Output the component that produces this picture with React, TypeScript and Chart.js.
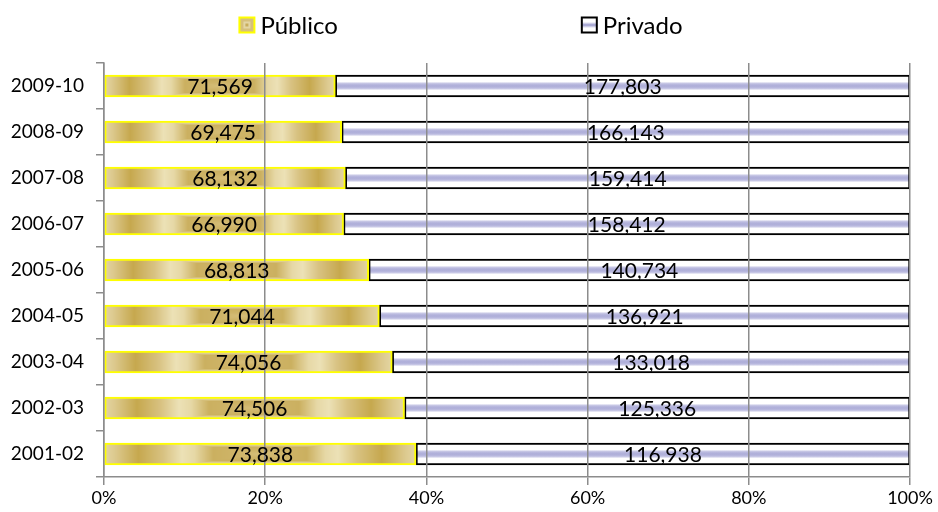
import React, { useEffect, useRef } from 'react';
import { Chart, registerables } from 'chart.js';

Chart.register(...registerables);

// ---- data ----
const categories = ['2001-02', '2002-03', '2003-04', '2004-05', '2005-06', '2006-07', '2007-08', '2008-09', '2009-10'];
const publico = [73838, 74506, 74056, 71044, 68813, 66990, 68132, 69475, 71569];
const privado = [116938, 125336, 133018, 136921, 140734, 158412, 159414, 166143, 177803];
const seriesNames = ['Público', 'Privado'];
const xTickValues = [0, 20, 40, 60, 80, 100];

const totals = publico.map((v, i) => v + privado[i]);
const publicoPct = publico.map((v, i) => (v / totals[i]) * 100);
const privadoPct = privado.map((v, i) => (v / totals[i]) * 100);
const rawValues = [publico, privado];

const FONT = 'Lato, "Open Sans", sans-serif';

// gold colour ramp: t = 0 centre, t = 1 edge
const goldStops: [number, number[]][] = [
  [0, [214, 190, 120]],
  [0.15, [206, 180, 104]],
  [0.3, [203, 176, 96]],
  [0.42, [230, 216, 166]],
  [0.5, [236, 225, 182]],
  [0.62, [216, 194, 130]],
  [0.78, [198, 168, 78]],
  [0.93, [220, 201, 142]],
  [1, [228, 214, 164]],
];

function goldAt(t: number): number[] {
  for (let k = 1; k < goldStops.length; k++) {
    const [t1, c1] = goldStops[k];
    const [t0, c0] = goldStops[k - 1];
    if (t <= t1) {
      const f = (t - t0) / (t1 - t0 || 1);
      return [0, 1, 2].map((q) => Math.round(c0[q] + (c1[q] - c0[q]) * f));
    }
  }
  return goldStops[goldStops.length - 1][1];
}

const patternCache = new Map<string, CanvasPattern>();

function goldPattern(ctx: CanvasRenderingContext2D, x0: number, y0: number, w: number, h: number) {
  const W = Math.max(1, Math.round(w));
  const H = Math.max(1, Math.round(h));
  const key = `${W}x${H}@${x0.toFixed(1)},${y0.toFixed(1)}`;
  const cached = patternCache.get(key);
  if (cached) return cached;
  const c = document.createElement('canvas');
  c.width = W;
  c.height = H;
  const g = c.getContext('2d')!;
  const img = g.createImageData(W, H);
  for (let y = 0; y < H; y++) {
    const dy = Math.abs(y + 0.5 - H / 2) / (H / 2);
    for (let x = 0; x < W; x++) {
      const dx = Math.abs(x + 0.5 - W / 2) / (W / 2);
      const t = Math.min(1, Math.max(dx, dy * 0.5));
      const col = goldAt(t);
      const p = (y * W + x) * 4;
      img.data[p] = col[0];
      img.data[p + 1] = col[1];
      img.data[p + 2] = col[2];
      img.data[p + 3] = 255;
    }
  }
  g.putImageData(img, 0, 0);
  const pat = ctx.createPattern(c, 'no-repeat')!;
  pat.setTransform(new DOMMatrix([1, 0, 0, 1, x0, y0]));
  patternCache.set(key, pat);
  return pat;
}

const BAR_THICKNESS = 22;

function barRect(c: any, start: number, end: number) {
  const chart = c.chart;
  const xs = chart.scales.x;
  const ys = chart.scales.y;
  if (!xs || !ys || !chart.chartArea) return null;
  const x0 = xs.getPixelForValue(start);
  const x1 = xs.getPixelForValue(end);
  const yc = ys.getPixelForValue(c.dataIndex);
  return { x0, x1, yTop: yc - BAR_THICKNESS / 2, yBot: yc + BAR_THICKNESS / 2 };
}

const publicoFill = (c: any) => {
  if (c.type !== 'data') return '#d4bd77';
  const r = barRect(c, 0, publicoPct[c.dataIndex]);
  if (!r) return '#d4bd77';
  return goldPattern(c.chart.ctx, r.x0, r.yTop, r.x1 - r.x0, r.yBot - r.yTop);
};

const privadoFill = (c: any) => {
  if (c.type !== 'data') return '#c8c8e4';
  const r = barRect(c, publicoPct[c.dataIndex], 100);
  if (!r) return '#c8c8e4';
  const g = c.chart.ctx.createLinearGradient(0, r.yTop, 0, r.yBot);
  g.addColorStop(0, '#ffffff');
  g.addColorStop(0.3, '#ffffff');
  g.addColorStop(0.4, '#bcbce0');
  g.addColorStop(0.5, '#adadd8');
  g.addColorStop(0.6, '#bcbce0');
  g.addColorStop(0.7, '#ffffff');
  g.addColorStop(1, '#ffffff');
  return g;
};

const legendPlugin = {
  id: 'customLegend',
  afterDraw(chart: any) {
    const ctx: CanvasRenderingContext2D = chart.ctx;
    ctx.save();
    ctx.font = `24px ${FONT}`;
    const box = 15;
    const gapText = 6;
    const gapItems = 244;
    const widths = seriesNames.map((n) => box + gapText + ctx.measureText(n).width);
    const total = widths[0] + gapItems + widths[1];
    const centerX = chart.width / 2 - 8;
    let x = centerX - total / 2;
    const yc = 25;
    seriesNames.forEach((name, i) => {
      const bx = x;
      const by = yc - box / 2;
      if (i === 0) {
        ctx.fillStyle = '#d6c07c';
        ctx.fillRect(bx, by, box, box);
        ctx.fillStyle = '#e4d6a4';
        ctx.fillRect(bx + 4, by + 4, box - 8, box - 8);
        ctx.fillStyle = '#c8ad5c';
        ctx.fillRect(bx + 6, by + 6, box - 12, box - 12);
        ctx.strokeStyle = '#ffff00';
      } else {
        ctx.fillStyle = '#ffffff';
        ctx.fillRect(bx, by, box, box);
        const g = ctx.createLinearGradient(0, by, 0, by + box);
        g.addColorStop(0, '#ffffff');
        g.addColorStop(0.3, '#ffffff');
        g.addColorStop(0.5, '#9a9acc');
        g.addColorStop(0.7, '#ffffff');
        g.addColorStop(1, '#ffffff');
        ctx.fillStyle = g;
        ctx.fillRect(bx, by, box, box);
        ctx.strokeStyle = '#000000';
      }
      ctx.lineWidth = 2;
      ctx.strokeRect(bx, by, box, box);
      ctx.fillStyle = '#000000';
      ctx.textAlign = 'left';
      ctx.textBaseline = 'middle';
      ctx.fillText(name, bx + box + gapText, yc + 1);
      x += widths[i] + gapItems;
    });
    ctx.restore();
  },
};

const dataLabelPlugin = {
  id: 'dataLabels',
  afterDraw(chart: any) {
    const ctx: CanvasRenderingContext2D = chart.ctx;
    ctx.save();
    ctx.font = `21px ${FONT}`;
    ctx.fillStyle = '#000000';
    ctx.textAlign = 'center';
    ctx.textBaseline = 'middle';
    chart.data.datasets.forEach((_ds: any, i: number) => {
      const meta = chart.getDatasetMeta(i);
      meta.data.forEach((el: any, j: number) => {
        const { x, base, y } = el.getProps(['x', 'base', 'y'], true);
        ctx.fillText(rawValues[i][j].toLocaleString('en-US'), (x + base) / 2, y + 1);
      });
    });
    ctx.restore();
  },
};

export default function App() {
  const canvasRef = useRef<HTMLCanvasElement | null>(null);

  useEffect(() => {
    if (!canvasRef.current) return;
    patternCache.clear();
    const chart = new Chart(canvasRef.current, {
      type: 'bar',
      data: {
        labels: categories,
        datasets: [
          {
            label: seriesNames[0],
            data: publicoPct,
            backgroundColor: publicoFill as any,
            borderColor: '#ffff00',
            borderWidth: 2,
            borderSkipped: false,
            barThickness: BAR_THICKNESS,
          },
          {
            label: seriesNames[1],
            data: privadoPct,
            backgroundColor: privadoFill as any,
            borderColor: '#000000',
            borderWidth: 2,
            borderSkipped: false,
            barThickness: BAR_THICKNESS,
          },
        ],
      },
      options: {
        indexAxis: 'y',
        responsive: false,
        animation: false,
        layout: { padding: { top: 63, right: 28, left: 0, bottom: 0 } },
        plugins: {
          legend: { display: false },
          tooltip: { enabled: false },
        },
        scales: {
          x: {
            stacked: true,
            min: 0,
            max: 100,
            afterBuildTicks: (s: any) => {
              s.ticks = xTickValues.map((v) => ({ value: v }));
            },
            afterFit: (s: any) => {
              s.height = 35;
            },
            ticks: {
              callback: (v: any) => `${v}%`,
              font: { family: FONT, size: 18 },
              color: '#000000',
              padding: 2,
              maxRotation: 0,
            },
            grid: {
              color: '#8c8c8c',
              lineWidth: 1.5,
              tickLength: 8,
              z: 1,
            },
            border: { color: '#8c8c8c', width: 1.5, z: 1 },
          },
          y: {
            stacked: true,
            reverse: true,
            afterFit: (s: any) => {
              s.width = 104;
            },
            ticks: {
              font: { family: FONT, size: 19 },
              color: '#000000',
              padding: 12,
            },
            grid: {
              drawOnChartArea: false,
              color: '#8c8c8c',
              lineWidth: 1.5,
              tickLength: 8,
              offset: true,
            },
            border: { color: '#8c8c8c', width: 1.5 },
          },
        },
      },
      plugins: [legendPlugin, dataLabelPlugin],
    });
    return () => chart.destroy();
  }, []);

  return (
    <div style={{ position: 'fixed', left: 0, top: 0, width: 938, height: 512, background: '#ffffff' }}>
      <canvas ref={canvasRef} width={938} height={512} style={{ width: 938, height: 512 }} />
    </div>
  );
}
